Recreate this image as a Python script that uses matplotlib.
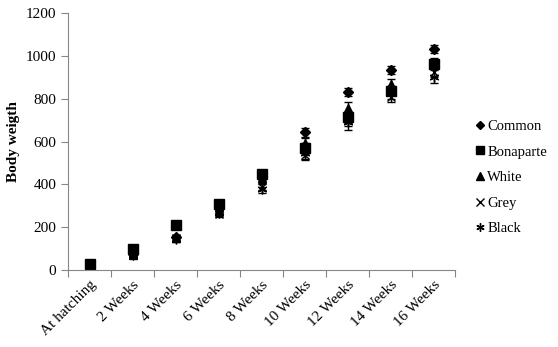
import numpy as np
import matplotlib.pyplot as plt
from matplotlib.lines import Line2D

plt.rcParams['font.family'] = ['Liberation Serif', 'DejaVu Serif']

ages = ['At hatching', '2 Weeks', '4 Weeks', '6 Weeks', '8 Weeks',
        '10 Weeks', '12 Weeks', '14 Weeks', '16 Weeks']

common = [30, 75, 155, 290, 440, 643, 832, 934, 1033]
bonaparte = [30, 97, 209, 308, 449, 568, 713, 836, 963]
white = [28, 72, 150, 280, 430, 592, 755, 869, 965]
grey = [27, 70, 148, 260, 390, 537, 700, 810, 927]
black = [29, 72, 145, 265, 380, 545, 690, 830, 903]

common_sd = [5, 8, 10, 14, 18, 22, 18, 18, 18]
bonaparte_sd = [5, 8, 10, 12, 18, 25, 25, 20, 20]
white_sd = [5, 8, 10, 12, 18, 25, 28, 25, 25]
grey_sd = [5, 8, 10, 12, 18, 22, 25, 25, 25]
black_sd = [5, 8, 12, 15, 20, 25, 35, 30, 30]

series = [
    ('Common', common, common_sd, 'D', 5),
    ('Bonaparte', bonaparte, bonaparte_sd, 's', 6.5),
    ('White', white, white_sd, '^', 6),
    ('Grey', grey, grey_sd, 'x', 6),
    ('Black', black, black_sd, (6, 2, 0), 7),
]

fig = plt.figure(figsize=(5.58, 3.47), dpi=100)
ax = fig.add_axes([0.122, 0.222, 0.694, 0.740])

x = np.arange(len(ages))
handles = []
for name, vals, sd, mk, ms in series:
    ax.errorbar(x, vals, yerr=sd, linestyle='none', marker=mk, color='black',
                markersize=ms, ecolor='black', elinewidth=1, capsize=3,
                capthick=1, markeredgewidth=1)
    handles.append(Line2D([], [], linestyle='none', marker=mk, color='black',
                          markersize=ms * 0.85, markeredgewidth=1, label=name))

ax.set_xlim(-0.5, len(ages) - 0.5)
ax.set_ylim(0, 1200)
ax.set_yticks(range(0, 1201, 200))
ax.set_xticks(np.arange(len(ages) + 1) - 0.5, minor=False)
ax.set_xticklabels([])
ax.set_xticks(x, minor=True)
ax.set_xticklabels(ages, minor=True, rotation=45, ha='right',
                   rotation_mode='anchor', fontsize=11)
ax.tick_params(axis='x', which='minor', length=0, pad=6)
ax.tick_params(axis='x', which='major', length=5, color='#868686')
ax.tick_params(axis='y', length=5, color='#868686', labelsize=11)

for side in ['top', 'right']:
    ax.spines[side].set_visible(False)
for side in ['left', 'bottom']:
    ax.spines[side].set_color('#868686')

ax.set_ylabel('Body weigth', fontweight='bold', fontsize=11)

ax.legend(handles=handles, loc='center left', bbox_to_anchor=(1.045, 0.36),
          frameon=False, fontsize=10.5, handletextpad=0.0, handlelength=1.0,
          labelspacing=0.85, borderpad=0, borderaxespad=0)

fig.savefig('out.png', dpi=100)
